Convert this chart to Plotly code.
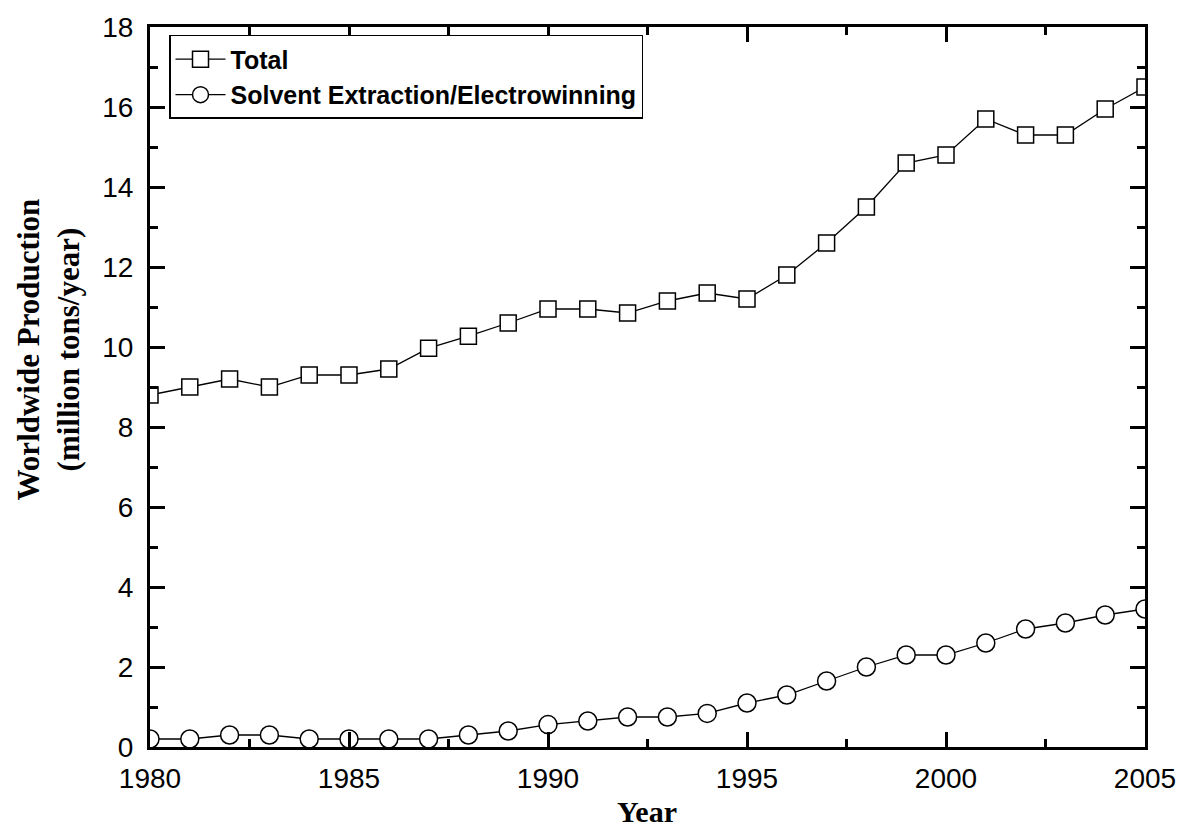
import plotly.graph_objects as go

years = list(range(1980, 2006))
total = [8.8, 9.0, 9.2, 9.0, 9.3, 9.3, 9.45, 9.97, 10.27, 10.6, 10.95, 10.95, 10.85,
         11.15, 11.35, 11.2, 11.8, 12.6, 13.5, 14.6, 14.8, 15.7, 15.3, 15.3, 15.95, 16.5]
sxew = [0.2, 0.2, 0.3, 0.3, 0.2, 0.2, 0.2, 0.2, 0.3, 0.4, 0.56, 0.65, 0.75,
        0.75, 0.84, 1.1, 1.3, 1.65, 2.0, 2.3, 2.3, 2.6, 2.95, 3.1, 3.3, 3.45]
series_names = ["Total", "Solvent Extraction/Electrowinning"]
x_title = "Year"
y_title_lines = ["Worldwide Production", "(million tons/year)"]

fig = go.Figure()
fig.add_trace(go.Scatter(
    x=years, y=total, name=series_names[0], mode="lines+markers",
    line=dict(color="black", width=1.3),
    marker=dict(symbol="square", size=16, color="white", line=dict(color="black", width=1.5)),
))
fig.add_trace(go.Scatter(
    x=years, y=sxew, name=series_names[1], mode="lines+markers",
    line=dict(color="black", width=1.3),
    marker=dict(symbol="circle", size=18, color="white", line=dict(color="black", width=1.5)),
))

tick_font = dict(family="Liberation Sans, Arial", size=28, color="black")
axis_common = dict(
    showline=True, linecolor="black", linewidth=3, mirror="ticks",
    ticks="inside", ticklen=15, tickwidth=2.5, tickcolor="black",
    showgrid=False, zeroline=False, tickfont=tick_font,
)
fig.update_xaxes(range=[1980, 2005], dtick=5, tick0=1980,
                 minor=dict(dtick=2.5, tick0=1980, ticks="inside", ticklen=8, tickwidth=2.5, tickcolor="black"),
                 ticklabelstandoff=4,
                 **axis_common)
fig.update_yaxes(range=[0, 18], dtick=2, tick0=0,
                 minor=dict(dtick=1, tick0=0, ticks="inside", ticklen=8, tickwidth=2.5, tickcolor="black"),
                 ticklabelstandoff=8,
                 **axis_common)

W, H = 1188, 831
L, R, T, B = 150, 43, 19, 84
pw, ph = W - L - R, H - T - B

def px_x(px):
    return (px - L) / pw

def px_y(py):
    return (H - B - py) / ph

title_font = dict(family="Liberation Serif, Times New Roman", size=30, color="black")
fig.add_annotation(text="<b>" + x_title + "</b>", xref="paper", yref="paper",
                   x=px_x(647), y=px_y(812), xanchor="center", yanchor="middle",
                   showarrow=False, font=title_font)
fig.add_annotation(text="<br>".join("<b>" + s + "</b>" for s in y_title_lines),
                   xref="paper", yref="paper",
                   x=px_x(48), y=px_y(345), xanchor="center", yanchor="middle",
                   textangle=-90, showarrow=False,
                   font=dict(family="Liberation Serif, Times New Roman", size=31, color="black"))

fig.update_layout(
    width=W, height=H, autosize=False,
    margin=dict(l=L, r=R, t=T, b=B),
    paper_bgcolor="white", plot_bgcolor="white",
    showlegend=True,
    legend=dict(x=px_x(169), y=px_y(27), xanchor="left", yanchor="top",
                bgcolor="white", bordercolor="black", borderwidth=1.5,
                font=dict(family="Liberation Sans, Arial", size=25, color="black", weight="bold"),
                itemwidth=50, tracegroupgap=0),
)

fig.write_html("out.html")
